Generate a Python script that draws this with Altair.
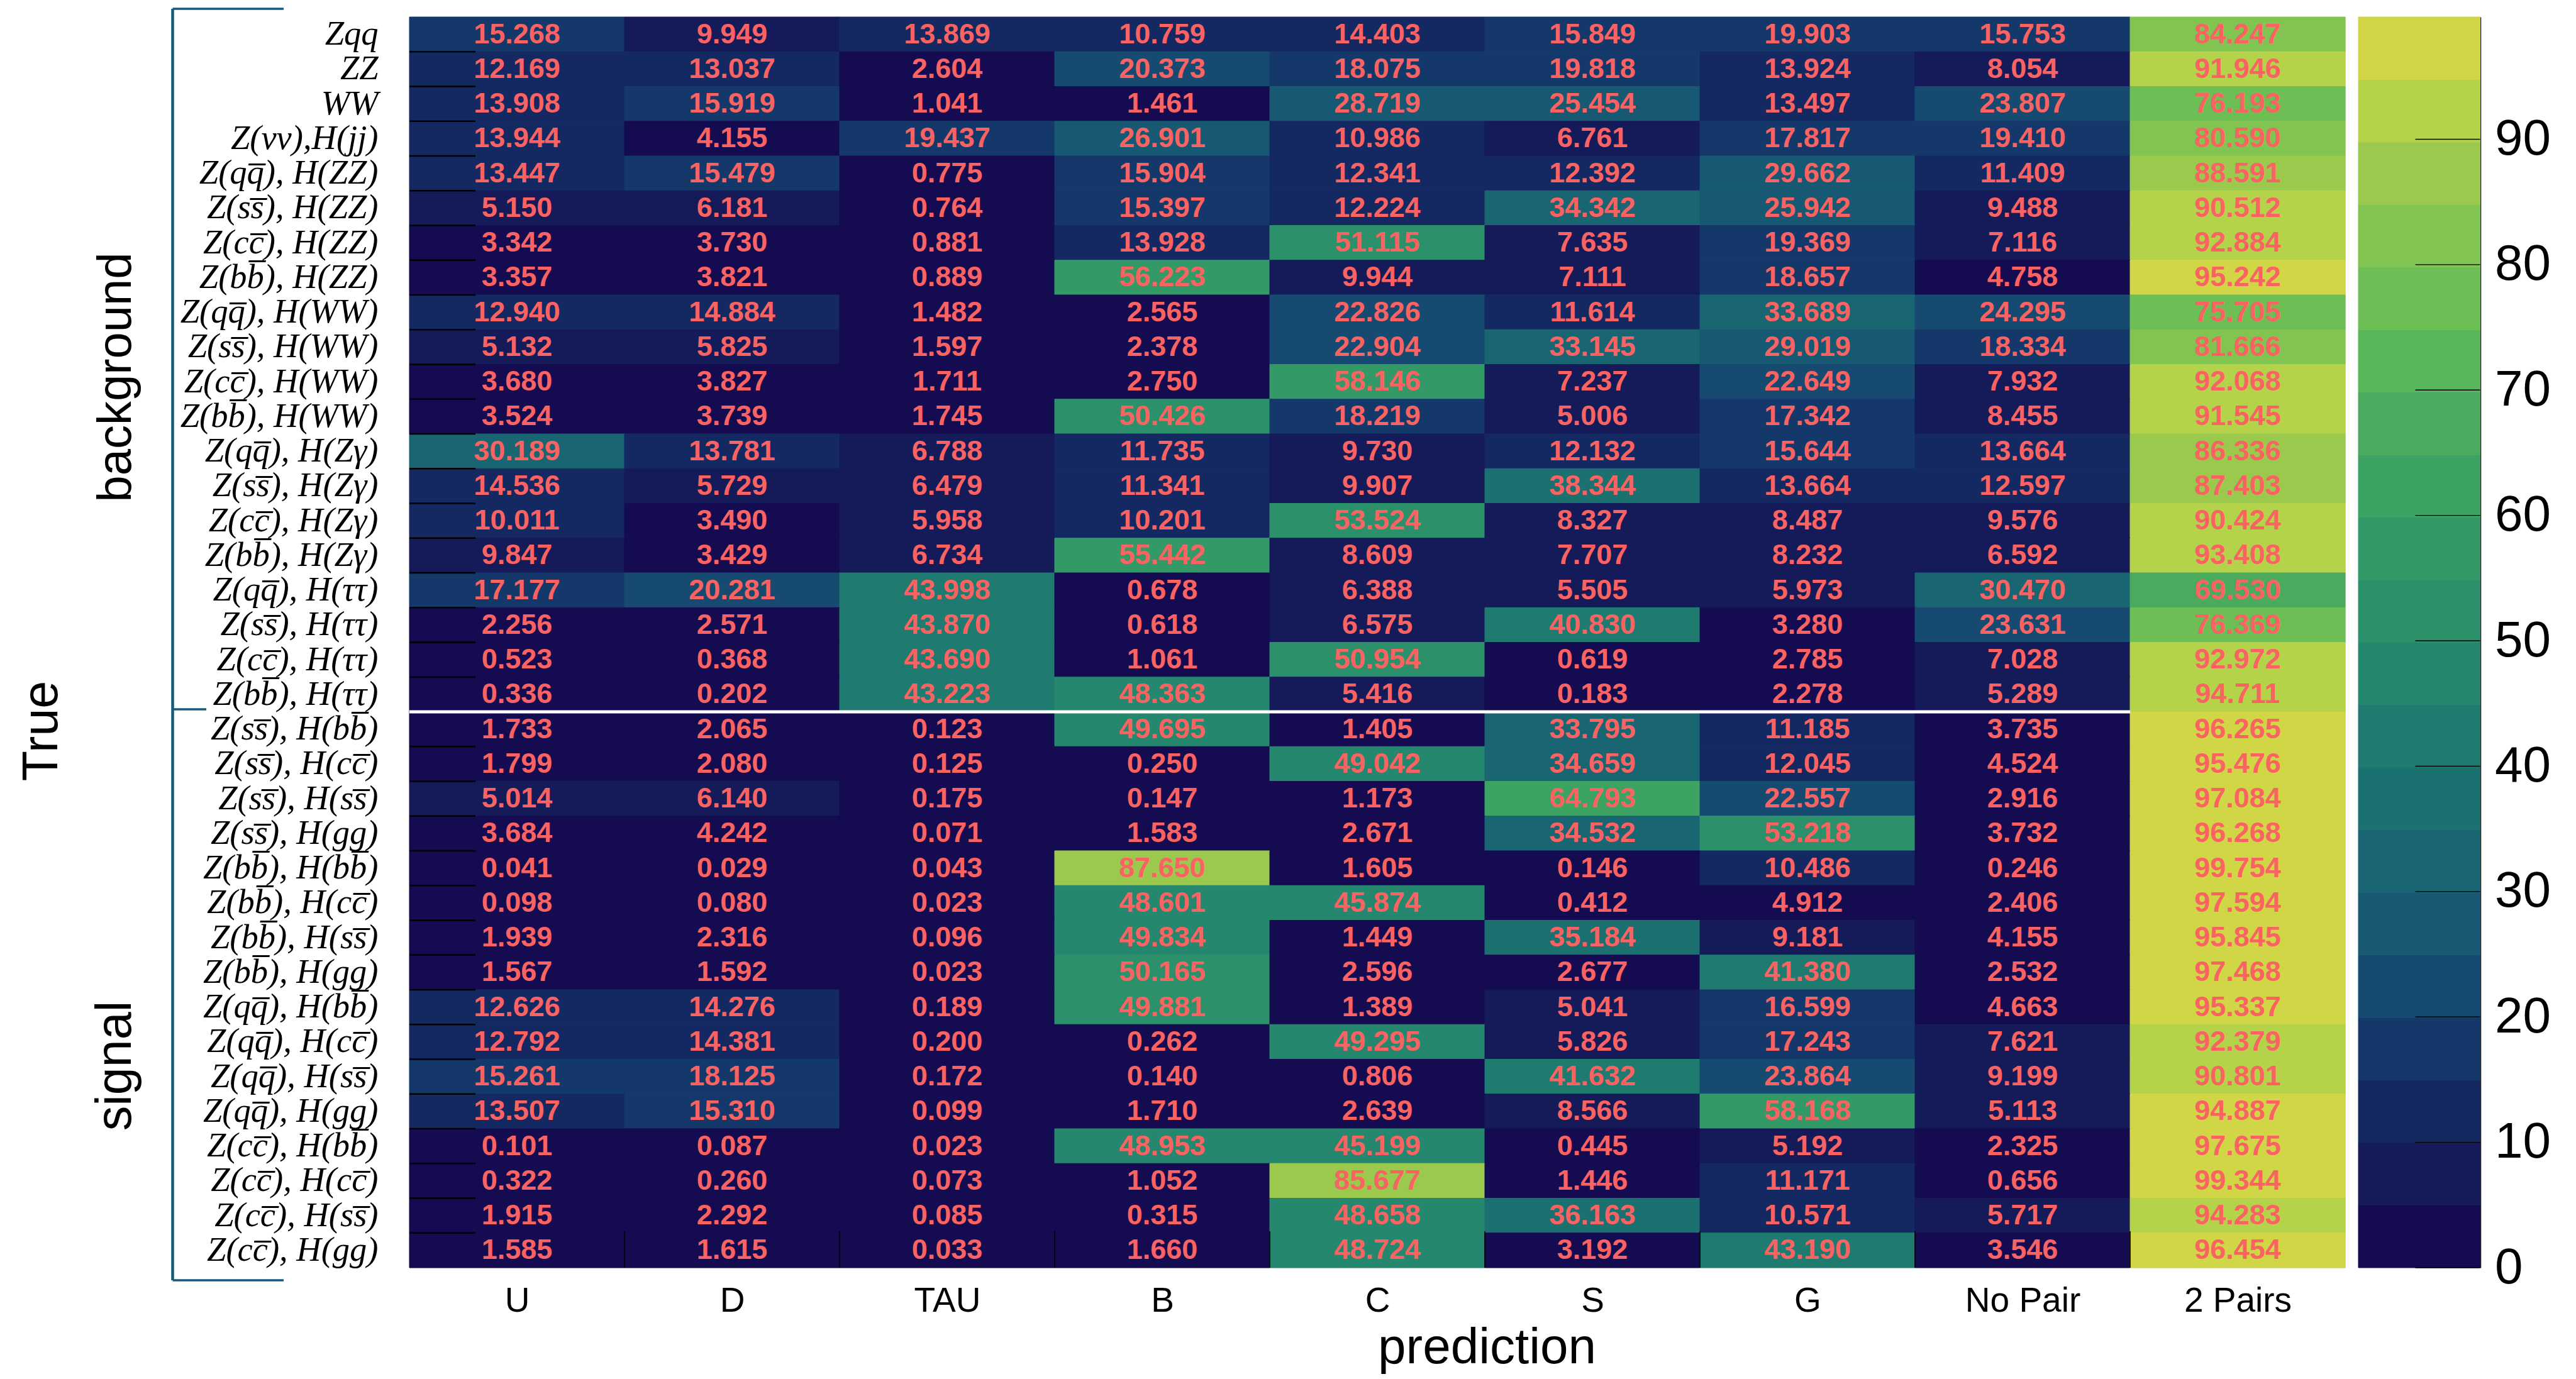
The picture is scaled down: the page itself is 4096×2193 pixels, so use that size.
import json
import altair as alt
import pandas as pd

# ---------------- data ----------------
COLS = ["U", "D", "TAU", "B", "C", "S", "G", "No Pair", "2 Pairs"]

OL = "\u0305"  # combining overline
def bar(ch):
    return ch + OL

q_, s_, c_, b_ = "q" + bar("q"), "s" + bar("s"), "c" + bar("c"), "b" + bar("b")

ROWS_BG = [
    "Zqq", "ZZ", "WW", "Z(\u03bd\u03bd),H(jj)",
    f"Z({q_}), H(ZZ)", f"Z({s_}), H(ZZ)", f"Z({c_}), H(ZZ)", f"Z({b_}), H(ZZ)",
    f"Z({q_}), H(WW)", f"Z({s_}), H(WW)", f"Z({c_}), H(WW)", f"Z({b_}), H(WW)",
    f"Z({q_}), H(Z\u03b3)", f"Z({s_}), H(Z\u03b3)", f"Z({c_}), H(Z\u03b3)", f"Z({b_}), H(Z\u03b3)",
    f"Z({q_}), H(\u03c4\u03c4)", f"Z({s_}), H(\u03c4\u03c4)", f"Z({c_}), H(\u03c4\u03c4)", f"Z({b_}), H(\u03c4\u03c4)",
]
ROWS_SIG = [
    f"Z({s_}), H({b_})", f"Z({s_}), H({c_})", f"Z({s_}), H({s_})", f"Z({s_}), H(gg)",
    f"Z({b_}), H({b_})", f"Z({b_}), H({c_})", f"Z({b_}), H({s_})", f"Z({b_}), H(gg)",
    f"Z({q_}), H({b_})", f"Z({q_}), H({c_})", f"Z({q_}), H({s_})", f"Z({q_}), H(gg)",
    f"Z({c_}), H({b_})", f"Z({c_}), H({c_})", f"Z({c_}), H({s_})", f"Z({c_}), H(gg)",
]

VALUES_BG = [
    [15.268, 9.949, 13.869, 10.759, 14.403, 15.849, 19.903, 15.753, 84.247],
    [12.169, 13.037, 2.604, 20.373, 18.075, 19.818, 13.924, 8.054, 91.946],
    [13.908, 15.919, 1.041, 1.461, 28.719, 25.454, 13.497, 23.807, 76.193],
    [13.944, 4.155, 19.437, 26.901, 10.986, 6.761, 17.817, 19.410, 80.590],
    [13.447, 15.479, 0.775, 15.904, 12.341, 12.392, 29.662, 11.409, 88.591],
    [5.150, 6.181, 0.764, 15.397, 12.224, 34.342, 25.942, 9.488, 90.512],
    [3.342, 3.730, 0.881, 13.928, 51.115, 7.635, 19.369, 7.116, 92.884],
    [3.357, 3.821, 0.889, 56.223, 9.944, 7.111, 18.657, 4.758, 95.242],
    [12.940, 14.884, 1.482, 2.565, 22.826, 11.614, 33.689, 24.295, 75.705],
    [5.132, 5.825, 1.597, 2.378, 22.904, 33.145, 29.019, 18.334, 81.666],
    [3.680, 3.827, 1.711, 2.750, 58.146, 7.237, 22.649, 7.932, 92.068],
    [3.524, 3.739, 1.745, 50.426, 18.219, 5.006, 17.342, 8.455, 91.545],
    [30.189, 13.781, 6.788, 11.735, 9.730, 12.132, 15.644, 13.664, 86.336],
    [14.536, 5.729, 6.479, 11.341, 9.907, 38.344, 13.664, 12.597, 87.403],
    [10.011, 3.490, 5.958, 10.201, 53.524, 8.327, 8.487, 9.576, 90.424],
    [9.847, 3.429, 6.734, 55.442, 8.609, 7.707, 8.232, 6.592, 93.408],
    [17.177, 20.281, 43.998, 0.678, 6.388, 5.505, 5.973, 30.470, 69.530],
    [2.256, 2.571, 43.870, 0.618, 6.575, 40.830, 3.280, 23.631, 76.369],
    [0.523, 0.368, 43.690, 1.061, 50.954, 0.619, 2.785, 7.028, 92.972],
    [0.336, 0.202, 43.223, 48.363, 5.416, 0.183, 2.278, 5.289, 94.711],
]
VALUES_SIG = [
    [1.733, 2.065, 0.123, 49.695, 1.405, 33.795, 11.185, 3.735, 96.265],
    [1.799, 2.080, 0.125, 0.250, 49.042, 34.659, 12.045, 4.524, 95.476],
    [5.014, 6.140, 0.175, 0.147, 1.173, 64.793, 22.557, 2.916, 97.084],
    [3.684, 4.242, 0.071, 1.583, 2.671, 34.532, 53.218, 3.732, 96.268],
    [0.041, 0.029, 0.043, 87.650, 1.605, 0.146, 10.486, 0.246, 99.754],
    [0.098, 0.080, 0.023, 48.601, 45.874, 0.412, 4.912, 2.406, 97.594],
    [1.939, 2.316, 0.096, 49.834, 1.449, 35.184, 9.181, 4.155, 95.845],
    [1.567, 1.592, 0.023, 50.165, 2.596, 2.677, 41.380, 2.532, 97.468],
    [12.626, 14.276, 0.189, 49.881, 1.389, 5.041, 16.599, 4.663, 95.337],
    [12.792, 14.381, 0.200, 0.262, 49.295, 5.826, 17.243, 7.621, 92.379],
    [15.261, 18.125, 0.172, 0.140, 0.806, 41.632, 23.864, 9.199, 90.801],
    [13.507, 15.310, 0.099, 1.710, 2.639, 8.566, 58.168, 5.113, 94.887],
    [0.101, 0.087, 0.023, 48.953, 45.199, 0.445, 5.192, 2.325, 97.675],
    [0.322, 0.260, 0.073, 1.052, 85.677, 1.446, 11.171, 0.656, 99.344],
    [1.915, 2.292, 0.085, 0.315, 48.658, 36.163, 10.571, 5.717, 94.283],
    [1.585, 1.615, 0.033, 1.660, 48.724, 3.192, 43.190, 3.546, 96.454],
]

GROUP_TEXT = ["background", "signal"]
X_TITLE = "prediction"
Y_TITLE = "True"
CBAR_TICKS = [0, 10, 20, 30, 40, 50, 60, 70, 80, 90]
N_LEVELS = 20
PALETTE = [
    "#150b50", "#151a58", "#142862", "#14386a", "#174a70",
    "#175872", "#196572", "#1b7070", "#1f7a70", "#24876e",
    "#2c916a", "#339a67", "#3ca362", "#4aab5e", "#58b65b",
    "#6cbe55", "#82c452", "#9bc94e", "#b5d24b", "#d0d646",
]

# ---------------- styling ----------------
SANS = "Liberation Sans"
SERIF = "Liberation Serif"
TEXT_RED = "#fb6262"
BRACKET = "#16597a"

W, H = 3078, 1989

rows = ROWS_BG + ROWS_SIG
vals = VALUES_BG + VALUES_SIG
recs = []
for i, (r, vs) in enumerate(zip(rows, vals)):
    for j, v in enumerate(vs):
        recs.append(dict(row=r, col=COLS[j], x0=j, x1=j + 1, xc=j + 0.5,
                         y0=i, y1=i + 1, yc=i + 0.5, value=v))
cells = pd.DataFrame(recs)
vmax = float(cells["value"].max())
thresholds = [vmax * k / N_LEVELS for k in range(1, N_LEVELS)]
color_scale = alt.Scale(type="threshold", domain=thresholds, range=PALETTE)

xs = alt.Scale(domain=[0, len(COLS)], nice=False, zero=False)
ys = alt.Scale(domain=[0, len(rows)], nice=False, zero=False, reverse=True)

col_arr = json.dumps(COLS, ensure_ascii=False)
row_arr = json.dumps(rows, ensure_ascii=False)

x_axis = alt.Axis(
    values=[j + 0.5 for j in range(len(COLS))],
    labelExpr=f"{col_arr}[floor(datum.value)]",
    title=X_TITLE, ticks=False, domain=False, grid=False,
    labelFont=SANS, labelFontSize=55, labelColor="black", labelPadding=52,
    labelBaseline="middle", labelAngle=0, labelOverlap=False, labelFlush=False,
    labelLimit=0,
    titleFont=SANS, titleFontSize=80, titleFontWeight="normal", titleColor="black",
    titleX=1713, titleY=151, titleBaseline="alphabetic", titleAlign="center",
)
y_axis = alt.Axis(
    values=[i + 0.5 for i in range(len(rows))],
    labelExpr=f"{row_arr}[floor(datum.value)]",
    title=Y_TITLE, ticks=False, domain=False, grid=False,
    labelFont=SERIF, labelFontStyle="italic", labelFontSize=54.5, labelColor="black",
    labelPadding=50, labelBaseline="middle", labelAlign="right",
    labelOverlap=False, labelFlush=False, labelLimit=0,
    titleFont=SANS, titleFontSize=79, titleFontWeight="normal", titleColor="black",
    titleAngle=270, titleX=-561, titleY=1135, titleBaseline="alphabetic", titleAlign="center",
)

heat = alt.Chart(cells).mark_rect(strokeWidth=1).encode(
    x=alt.X("x0:Q", scale=xs, axis=x_axis), x2="x1",
    y=alt.Y("y0:Q", scale=ys, axis=y_axis), y2="y1",
    color=alt.Color("value:Q", scale=color_scale, legend=None),
    stroke=alt.Stroke("value:Q", scale=color_scale, legend=None),
)

ytick_df = pd.DataFrame({"b": list(range(1, len(rows)))})
yticks = alt.Chart(ytick_df).mark_rule(color="black", strokeWidth=2.5).encode(
    y=alt.Y("b:Q", scale=ys), x=alt.value(0), x2=alt.value(105))

xtick_df = pd.DataFrame({"b": list(range(1, len(COLS)))})
xticks = alt.Chart(xtick_df).mark_rule(color="black", strokeWidth=1.6).encode(
    x=alt.X("b:Q", scale=xs), y=alt.value(H), y2=alt.value(H - 58))

sep_df = pd.DataFrame({"y": [len(ROWS_BG)], "xa": [0], "xb": [len(COLS) - 1]})
sep = alt.Chart(sep_df).mark_rule(color="white", strokeWidth=5).encode(
    y=alt.Y("y:Q", scale=ys), x=alt.X("xa:Q", scale=xs), x2="xb")

text = alt.Chart(cells).mark_text(font=SANS, fontSize=45, fontWeight="bold", color=TEXT_RED,
                                  baseline="middle", align="center").encode(
    x=alt.X("xc:Q", scale=xs), y=alt.Y("yc:Q", scale=ys),
    text=alt.Text("value:Q", format=".3f"))

one = alt.Data(values=[{"k": 0}])
bx = -376.5
br_v = alt.Chart(one).mark_rule(color=BRACKET, strokeWidth=4.5).encode(
    x=alt.value(bx), y=alt.value(-13), y2=alt.value(2009))
br_t = alt.Chart(one).mark_rule(color=BRACKET, strokeWidth=3.5).encode(
    x=alt.value(bx), x2=alt.value(-200), y=alt.value(-13))
br_m = alt.Chart(one).mark_rule(color=BRACKET, strokeWidth=3.5).encode(
    x=alt.value(bx), x2=alt.value(-323), y=alt.value(1101))
br_b = alt.Chart(one).mark_rule(color=BRACKET, strokeWidth=3.5).encode(
    x=alt.value(bx), x2=alt.value(-200), y=alt.value(2009))

g_bg = alt.Chart(one).mark_text(font=SANS, fontSize=76, angle=270, align="center",
                                baseline="alphabetic", color="black").encode(
    x=alt.value(-443), y=alt.value(573), text=alt.value(GROUP_TEXT[0]))
g_sig = alt.Chart(one).mark_text(font=SANS, fontSize=79, angle=270, align="center",
                                 baseline="alphabetic", color="black").encode(
    x=alt.value(-443), y=alt.value(1668), text=alt.value(GROUP_TEXT[1]))

main = alt.layer(heat, yticks, xticks, sep, text, br_v, br_t, br_m, br_b, g_bg, g_sig)

# ---------------- colour bar ----------------
edges = [vmax * k / N_LEVELS for k in range(N_LEVELS + 1)]
cbar_df = pd.DataFrame({"lo": edges[:-1], "hi": edges[1:],
                        "mid": [(a + b) / 2 for a, b in zip(edges[:-1], edges[1:])]})
CB_X0, CB_X1 = 3099, 3292.5
cys = alt.Scale(domain=[0, vmax], nice=False, zero=False)
cbar_axis = alt.Axis(
    orient="right", offset=CB_X1 - W, values=CBAR_TICKS, ticks=False,
    domain=True, domainColor="#222222", domainWidth=2.5, grid=False,
    labelFont=SANS, labelFontSize=80, labelPadding=23, labelColor="black",
    labelBaseline="middle", labelFlush=False, labelOverlap=False, title=None,
)
cbar_rect = alt.Chart(cbar_df).mark_rect(strokeWidth=1).encode(
    x=alt.value(CB_X0), x2=alt.value(CB_X1),
    y=alt.Y("lo:Q", scale=cys, axis=cbar_axis), y2="hi",
    color=alt.Color("mid:Q", scale=color_scale, legend=None),
    stroke=alt.Stroke("mid:Q", scale=color_scale, legend=None),
)
cbar_ticks = alt.Chart(pd.DataFrame({"v": CBAR_TICKS})).mark_rule(color="black", strokeWidth=1.4).encode(
    y=alt.Y("v:Q", scale=cys), x=alt.value(CB_X1 - 103), x2=alt.value(CB_X1))
cbar = alt.layer(cbar_rect, cbar_ticks)

chart = alt.layer(main, cbar).resolve_scale(y="independent").properties(
    width=W, height=H,
    padding={"left": 643, "top": 19, "right": 359, "bottom": 174},
    autosize=alt.AutoSizeParams(type="none"),
).configure_view(stroke="#222222", strokeWidth=2.5).configure(background="white")

chart.save("out.html", embed_options={"renderer": "svg", "actions": False})
